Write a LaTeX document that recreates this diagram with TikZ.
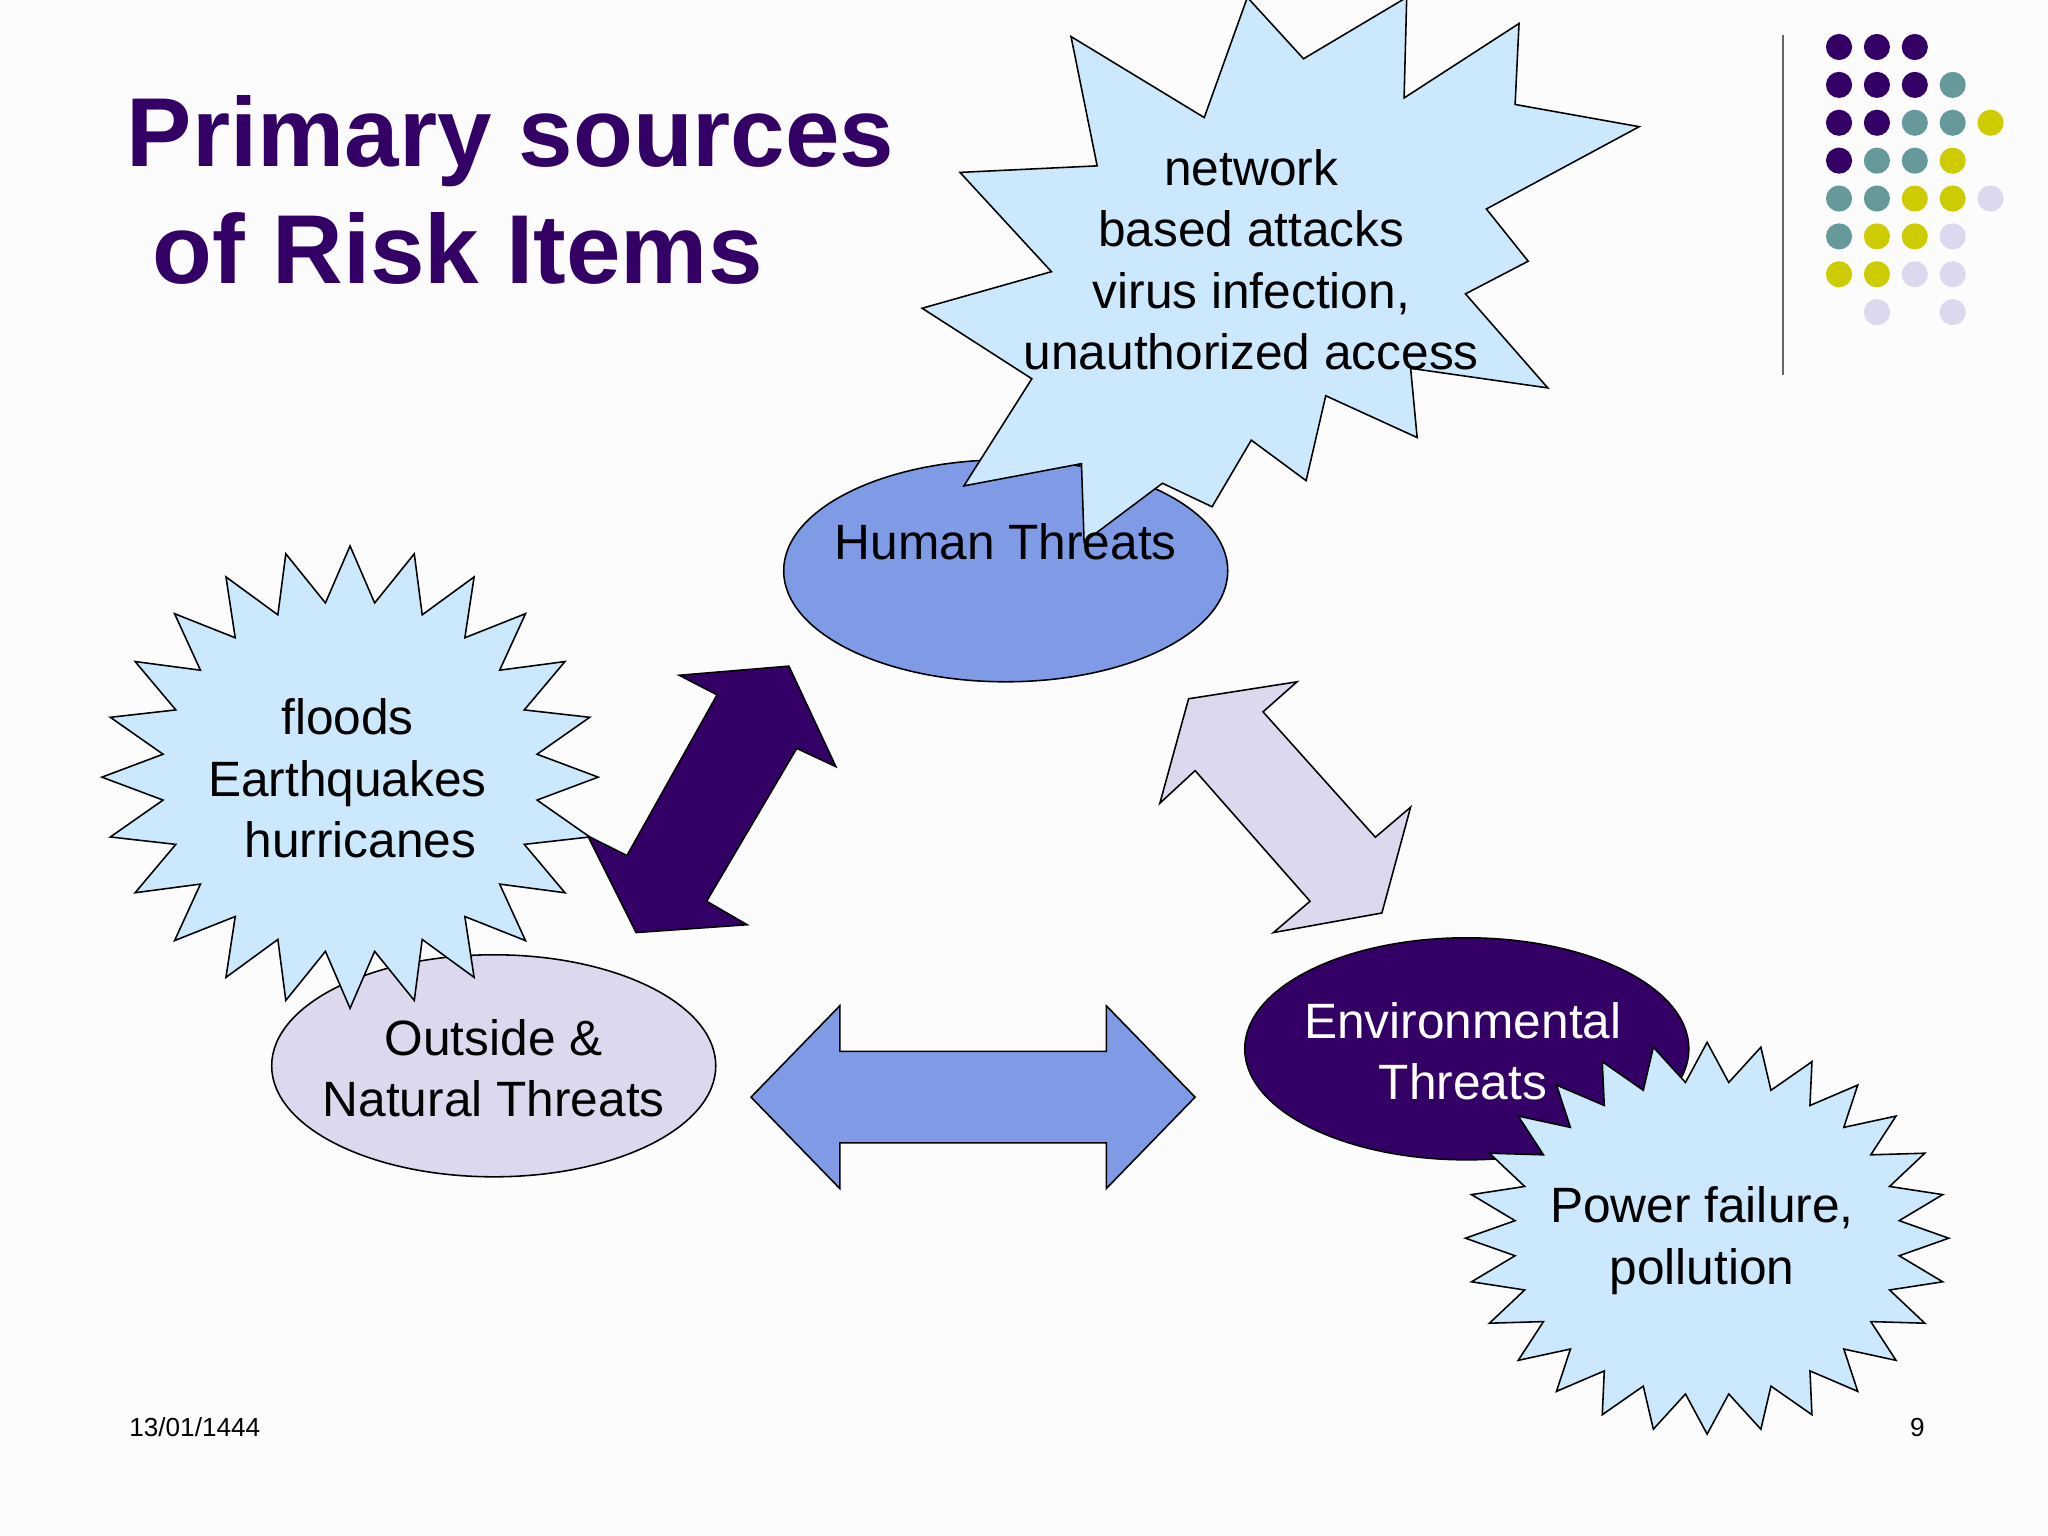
\documentclass[tikz,border=0pt]{standalone}
\usepackage{fontspec}
\setmainfont{Liberation Sans}
\definecolor{P}{HTML}{330066}
\definecolor{T}{HTML}{669999}
\definecolor{Y}{HTML}{CCCC00}
\definecolor{L}{HTML}{DCD8EE}
\definecolor{B}{HTML}{7F9BE6}
\definecolor{S}{HTML}{CCE8FC}
\tikzset{shp/.style={draw=black,line width=0.6pt},
 txt/.style={font=\fontsize{19}{23.5}\selectfont,align=center,inner sep=0pt},
 dot/.style={circle,inner sep=0pt,minimum size=10pt}}
\newcommand\burst[6]{\draw[shp,fill=S] plot[samples=#3*2+1,domain=0:#3*2] ({#1+(mod(round(\x),2)<0.5?#4:#4*#6)*cos(\x*180/#3)},{#2+(mod(round(\x),2)<0.5?#5:#5*#6)*sin(\x*180/#3)}) -- cycle;}
\begin{document}
\begin{tikzpicture}[x=0.5pt,y=-0.5pt]
\useasboundingbox (0,0) rectangle (1568,1176);
\fill[white!98!gray] (0,0) rectangle (1568,1176);
% dots
\foreach \c/\i/\j in {P/0/0,P/1/0,P/2/0,P/0/1,P/1/1,P/2/1,T/3/1,P/0/2,P/1/2,T/2/2,T/3/2,Y/4/2,P/0/3,T/1/3,T/2/3,Y/3/3,T/0/4,T/1/4,Y/2/4,Y/3/4,L/4/4,T/0/5,Y/1/5,Y/2/5,L/3/5,Y/0/6,Y/1/6,L/2/6,L/3/6,L/1/7,L/3/7}
  \node[dot,fill=\c] (d\i\j) at ({1408+29*\i},{36+29*\j}) {};
\draw[line width=0.8pt,gray!80!black] (1365,27) -- (1365,287);
% title
\node[font=\bfseries\fontsize{37.5}{44}\selectfont,text=P,align=left,anchor=north west] (title) at (90,66) {Primary sources\\[1pt]\hspace*{10pt}of Risk Items};
% ellipses
\draw[shp,fill=B] (770,437) ellipse [x radius=170,y radius=85];
\draw[shp,fill=L] (378,816) ellipse [x radius=170,y radius=85];
\draw[shp,fill=P] (1123,803) ellipse [x radius=170,y radius=85];
% arrows
\draw[shp,fill=P] (604,510)--(640,587)--(610,573)--(541,690)--(572,708)--(487,714)--(450,640)--(480,655)--(549,532)--(520,517)--cycle;
\draw[shp,fill=L] (910,535)--(993,522)--(967,545)--(1053,641)--(1080,618)--(1058,699)--(975,714)--(1003,690)--(915,590)--(888,615)--cycle;
\draw[shp,fill=B] (575,840)--(643,770)--(643,805)--(847,805)--(847,770)--(915,840)--(847,910)--(847,875)--(643,875)--(643,910)--cycle;
% stars
\burst{268}{595}{24}{190}{177}{0.76}
\burst{1307}{948}{28}{185}{150}{0.8}
\draw[shp,fill=S] (735,132)--(805,208)--(706,236)--(790,290)--(738,372)--(828,355)--(830,415)--(890,370)--(928,388)--(958,337)--(1000,368)--(1015,303)--(1085,335)--(1080,282)--(1185,297)--(1122,225)--(1170,200)--(1138,160)--(1255,97)--(1160,80)--(1163,18)--(1075,75)--(1077,-2)--(998,45)--(955,-2)--(922,90)--(820,28)--(840,127)--cycle;
% texts
\node[txt] (human) at (770,415) {Human Threats};
\node[txt] (outside) at (378,818) {Outside \&\\Natural Threats};
\node[txt,text=white] (env) at (1120,805) {Environmental\\Threats};
\node[txt] (nat) at (266,596) {floods\\Earthquakes\\\hspace*{10pt}hurricanes};
\node[txt] (pow) at (1303,950) {Power failure,\\pollution};
\node[txt] (net) at (958,199) {network\\based attacks\\virus infection,\\unauthorized access};
\node[font=\fontsize{10}{12}\selectfont,anchor=west] (date) at (92,1093) {13/01/1444};
\node[font=\fontsize{10}{12}\selectfont] (pg) at (1468,1093) {9};
\end{tikzpicture}
\end{document}
